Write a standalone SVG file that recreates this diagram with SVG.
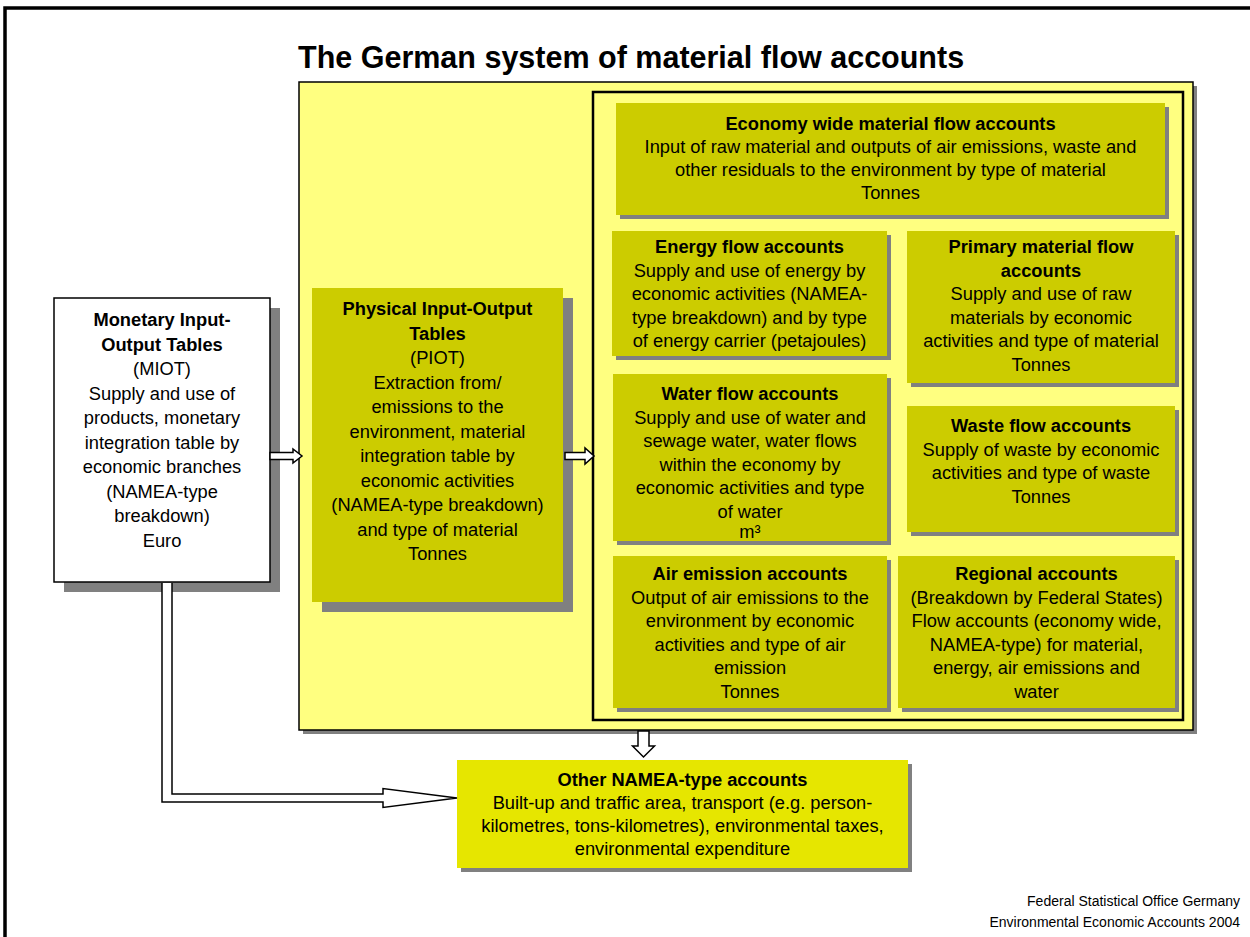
<svg xmlns="http://www.w3.org/2000/svg" width="1250" height="937" viewBox="0 0 1250 937">
<style>
text{font-family:"Liberation Sans",Arial,sans-serif;fill:#000;text-anchor:middle;font-size:18.3px}
.h{font-weight:bold}
.title{font-size:30.5px;font-weight:bold;text-anchor:start}
.foot{font-size:14px;text-anchor:end}
.sh{fill:#808080}
.olive{fill:#CCCC00}
.arrow{fill:#fff;stroke:#000;stroke-width:1.5;stroke-linejoin:miter}
</style>
<rect width="1250" height="937" fill="#fff"/>
<path d="M5 937V8H1250" fill="none" stroke="#000" stroke-width="3.5"/>
<text class="title" x="298" y="68">The German system of material flow accounts</text>

<g id="container">
<rect class="sh" x="303" y="86" width="894" height="648"/>
<rect x="299" y="82" width="894" height="648" fill="#FFFF80" stroke="#000" stroke-width="1.5"/>
<rect x="593" y="92" width="590" height="628" fill="none" stroke="#000" stroke-width="2.5"/>
</g>

<g id="miot">
<rect class="sh" x="64" y="308" width="216" height="284"/>
<rect x="54" y="298" width="216" height="284" fill="#fff" stroke="#000" stroke-width="1.5"/>
<text x="162" y="326" class="h">Monetary Input-</text>
<text x="162" y="350.5" class="h">Output Tables</text>
<text x="162" y="375">(MIOT)</text>
<text x="162" y="399.5">Supply and use of</text>
<text x="162" y="424">products, monetary</text>
<text x="162" y="448.5">integration table by</text>
<text x="162" y="473">economic branches</text>
<text x="162" y="497.5">(NAMEA-type</text>
<text x="162" y="522">breakdown)</text>
<text x="162" y="546.5">Euro</text>
</g>

<g id="piot">
<rect class="sh" x="322" y="298" width="251" height="314"/>
<rect class="olive" x="312" y="288" width="251" height="314"/>
<text x="437.5" y="315" class="h">Physical Input-Output</text>
<text x="437.5" y="339.5" class="h">Tables</text>
<text x="437.5" y="364">(PIOT)</text>
<text x="437.5" y="388.5">Extraction from/</text>
<text x="437.5" y="413">emissions to the</text>
<text x="437.5" y="437.5">environment, material</text>
<text x="437.5" y="462">integration table by</text>
<text x="437.5" y="486.5">economic activities</text>
<text x="437.5" y="511">(NAMEA-type breakdown)</text>
<text x="437.5" y="535.5">and type of material</text>
<text x="437.5" y="560">Tonnes</text>
</g>

<g id="economy">
<rect class="sh" x="620" y="107" width="549" height="112"/>
<rect class="olive" x="616" y="103" width="549" height="112"/>
<text x="890.5" y="130" class="h">Economy wide material flow accounts</text>
<text x="890.5" y="153">Input of raw material and outputs of air emissions, waste and</text>
<text x="890.5" y="176">other residuals to the environment by type of material</text>
<text x="890.5" y="199">Tonnes</text>
</g>

<g id="energy">
<rect class="sh" x="616" y="235" width="275" height="125"/>
<rect class="olive" x="612" y="231" width="275" height="125"/>
<text x="749.5" y="253" class="h">Energy flow accounts</text>
<text x="749.5" y="276.5">Supply and use of energy by</text>
<text x="749.5" y="300">economic activities (NAMEA-</text>
<text x="749.5" y="323.5">type breakdown) and by type</text>
<text x="749.5" y="347">of energy carrier (petajoules)</text>
</g>

<g id="primary">
<rect class="sh" x="911" y="235" width="268" height="152"/>
<rect class="olive" x="907" y="231" width="268" height="152"/>
<text x="1041" y="253" class="h">Primary material flow</text>
<text x="1041" y="276.5" class="h">accounts</text>
<text x="1041" y="300">Supply and use of raw</text>
<text x="1041" y="323.5">materials by economic</text>
<text x="1041" y="347">activities and type of material</text>
<text x="1041" y="370.5">Tonnes</text>
</g>

<g id="water">
<rect class="sh" x="617" y="378" width="274" height="167"/>
<rect class="olive" x="613" y="374" width="274" height="167"/>
<text x="750" y="400" class="h">Water flow accounts</text>
<text x="750" y="423.5">Supply and use of water and</text>
<text x="750" y="447">sewage water, water flows</text>
<text x="750" y="470.5">within the economy by</text>
<text x="750" y="494">economic activities and type</text>
<text x="750" y="517.5">of water</text>
<text x="750" y="538">m³</text>
</g>

<g id="waste">
<rect class="sh" x="911" y="410" width="268" height="126"/>
<rect class="olive" x="907" y="406" width="268" height="126"/>
<text x="1041" y="432" class="h">Waste flow accounts</text>
<text x="1041" y="455.5">Supply of waste by economic</text>
<text x="1041" y="479">activities and type of waste</text>
<text x="1041" y="502.5">Tonnes</text>
</g>

<g id="air">
<rect class="sh" x="617" y="560" width="274" height="152"/>
<rect class="olive" x="613" y="556" width="274" height="152"/>
<text x="750" y="580" class="h">Air emission accounts</text>
<text x="750" y="603.5">Output of air emissions to the</text>
<text x="750" y="627">environment by economic</text>
<text x="750" y="650.5">activities and type of air</text>
<text x="750" y="674">emission</text>
<text x="750" y="697.5">Tonnes</text>
</g>

<g id="regional">
<rect class="sh" x="902" y="560" width="277" height="152"/>
<rect class="olive" x="898" y="556" width="277" height="152"/>
<text x="1036.5" y="580" class="h">Regional accounts</text>
<text x="1036.5" y="603.5">(Breakdown by Federal States)</text>
<text x="1036.5" y="627">Flow accounts (economy wide,</text>
<text x="1036.5" y="650.5">NAMEA-type) for material,</text>
<text x="1036.5" y="674">energy, air emissions and</text>
<text x="1036.5" y="697.5">water</text>
</g>

<g id="other">
<rect class="sh" x="461" y="764" width="451" height="108"/>
<rect x="457" y="760" width="451" height="108" fill="#E6E600"/>
<text x="682.5" y="786" class="h">Other NAMEA-type accounts</text>
<text x="682.5" y="809">Built-up and traffic area, transport (e.g. person-</text>
<text x="682.5" y="832">kilometres, tons-kilometres), environmental taxes,</text>
<text x="682.5" y="855">environmental expenditure</text>
</g>

<g id="connectors">
<path class="arrow" d="M270 452.5H293V449L302 456L293 463V459.5H270Z"/>
<path class="arrow" d="M565 452.5H585V448L594 456L585 464V459.5H565Z"/>
<path class="arrow" d="M638 731V746H632.5L643.5 757L654.5 746H649V731Z"/>
<path class="arrow" d="M162 583V802H383V807.5L457 798L383 788.5V794H172V583"/>
</g>

<text class="foot" x="1240" y="906">Federal Statistical Office Germany</text>
<text class="foot" x="1240" y="927">Environmental Economic Accounts 2004</text>
</svg>
